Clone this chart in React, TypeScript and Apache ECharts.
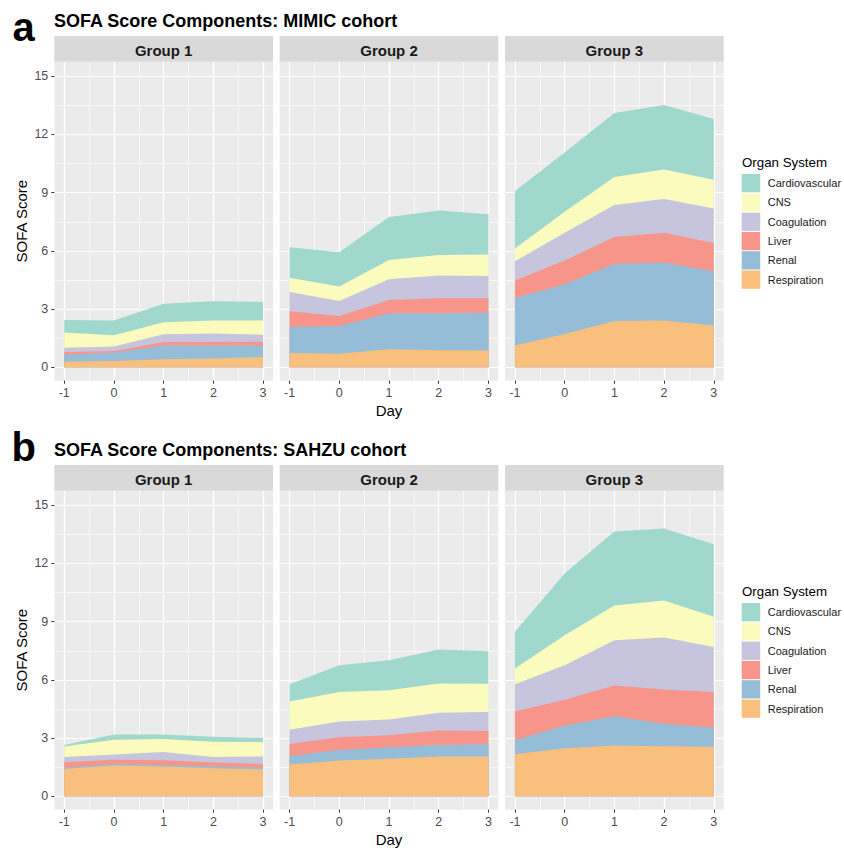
import React, { useEffect, useRef } from "react";
import * as echarts from "echarts";

// ---------- data ----------
const days = [-1, 0, 1, 2, 3];
const groups = ["Group 1", "Group 2", "Group 3"];
// stacking order, bottom -> top
const organs = ["Respiration", "Renal", "Liver", "Coagulation", "CNS", "Cardiovascular"];
const legendOrder = ["Cardiovascular", "CNS", "Coagulation", "Liver", "Renal", "Respiration"];
const yTickValues = [0, 3, 6, 9, 12, 15];
const yMinorValues = [1.5, 4.5, 7.5, 10.5, 13.5];
const xMinorValues = [-0.5, 0.5, 1.5, 2.5];
const cohortTitles = ["SOFA Score Components: MIMIC cohort", "SOFA Score Components: SAHZU cohort"];
const panelLetters = ["a", "b"];

// MIMIC cohort: component values per group (rows) and day (columns)
const mimicRespiration = [
  [0.29, 0.33, 0.41, 0.46, 0.53],
  [0.74, 0.70, 0.93, 0.88, 0.86],
  [1.12, 1.72, 2.39, 2.41, 2.16],
];
const mimicRenal = [
  [0.36, 0.43, 0.71, 0.67, 0.60],
  [1.34, 1.43, 1.85, 1.90, 1.96],
  [2.45, 2.56, 2.94, 2.99, 2.79],
];
const mimicLiver = [
  [0.12, 0.08, 0.17, 0.18, 0.19],
  [0.81, 0.52, 0.69, 0.78, 0.74],
  [0.90, 1.22, 1.39, 1.53, 1.46],
];
const mimicCoagulation = [
  [0.24, 0.23, 0.41, 0.43, 0.36],
  [0.99, 0.77, 1.07, 1.17, 1.14],
  [0.99, 1.44, 1.65, 1.75, 1.77],
];
const mimicCNS = [
  [0.78, 0.58, 0.62, 0.67, 0.73],
  [0.74, 0.74, 0.99, 1.06, 1.11],
  [0.66, 1.08, 1.44, 1.51, 1.48],
];
const mimicCardiovascular = [
  [0.65, 0.76, 0.96, 0.99, 0.96],
  [1.57, 1.77, 2.22, 2.29, 2.08],
  [2.97, 3.05, 3.30, 3.33, 3.14],
];

// SAHZU cohort
const sahzuRespiration = [
  [1.41, 1.59, 1.53, 1.45, 1.38],
  [1.64, 1.84, 1.93, 2.05, 2.05],
  [2.17, 2.48, 2.62, 2.58, 2.56],
];
const sahzuRenal = [
  [0.06, 0.08, 0.09, 0.08, 0.10],
  [0.44, 0.55, 0.60, 0.60, 0.64],
  [0.72, 1.17, 1.51, 1.16, 0.97],
];
const sahzuLiver = [
  [0.29, 0.21, 0.24, 0.21, 0.19],
  [0.61, 0.66, 0.62, 0.74, 0.67],
  [1.48, 1.32, 1.58, 1.77, 1.84],
];
const sahzuCoagulation = [
  [0.26, 0.28, 0.42, 0.29, 0.38],
  [0.74, 0.81, 0.81, 0.91, 0.98],
  [1.40, 1.79, 2.33, 2.67, 2.32],
];
const sahzuCNS = [
  [0.55, 0.75, 0.67, 0.78, 0.74],
  [1.46, 1.51, 1.51, 1.52, 1.46],
  [0.82, 1.54, 1.79, 1.91, 1.57],
];
const sahzuCardiovascular = [
  [0.07, 0.28, 0.24, 0.26, 0.21],
  [0.89, 1.39, 1.54, 1.74, 1.67],
  [1.89, 3.18, 3.82, 3.71, 3.73],
];

const cohorts: Record<string, number[][]>[] = [
  {
    Respiration: mimicRespiration,
    Renal: mimicRenal,
    Liver: mimicLiver,
    Coagulation: mimicCoagulation,
    CNS: mimicCNS,
    Cardiovascular: mimicCardiovascular,
  },
  {
    Respiration: sahzuRespiration,
    Renal: sahzuRenal,
    Liver: sahzuLiver,
    Coagulation: sahzuCoagulation,
    CNS: sahzuCNS,
    Cardiovascular: sahzuCardiovascular,
  },
];

// ---------- style ----------
const colors: Record<string, string> = {
  Cardiovascular: "#A0D8CE",
  CNS: "#FBFBBE",
  Coagulation: "#C7C4DD",
  Liver: "#F8958A",
  Renal: "#95BDD8",
  Respiration: "#F9BF7D",
};
const FONT = "'Liberation Sans', Arial, Helvetica, sans-serif";
const PANEL_LEFT = 54.3;
const PANEL_W = 218.7;
const PANEL_STEP = 225.35;
const PANEL_H = 319;
const ROW_OFFSET = 429;
const PLOT_TOP = 61.7;
const STRIP_TOP = 36;
const STRIP_H = 25.7;
const Y_MIN = -0.69;
const Y_MAX = 15.75;
const X_MIN = -1.2;
const X_MAX = 3.2;

function buildOption() {
  const grid: any[] = [];
  const series: any[] = [];
  const graphic: any[] = [];
  const legend: any[] = [];

  const majorX: any[] = [];
  const majorY: any[] = [];
  const minorX: any[] = [];
  const minorY: any[] = [];

  for (let r = 0; r < 2; r++) {
    const top = PLOT_TOP + r * ROW_OFFSET;
    for (let g = 0; g < 3; g++) {
      const idx = r * 3 + g;
      const left = PANEL_LEFT + g * PANEL_STEP;
      grid.push({
        left,
        top,
        width: PANEL_W,
        height: PANEL_H,
        show: true,
        backgroundColor: "#EBEBEB",
        borderWidth: 0,
        containLabel: false,
        outerBoundsMode: "none",
      });
      majorX.push({
        type: "value",
        gridIndex: idx,
        min: X_MIN,
        max: X_MAX,
        position: "bottom",
        name: g === 1 ? "Day" : "",
        nameLocation: "middle",
        nameGap: 22,
        nameTextStyle: { fontFamily: FONT, fontSize: 15, color: "#000" },
        axisLine: { show: false, onZero: false },
        axisTick: { show: true, length: 3, lineStyle: { color: "#333333", width: 1 }, customValues: days },
        axisLabel: { show: true, customValues: days, margin: 6, fontFamily: FONT, fontSize: 12.5, color: "#4D4D4D" },
        splitLine: { show: true, lineStyle: { color: "#FFFFFF", width: 1.2 } },
        z: 1,
      });
      minorX.push({
        type: "value",
        gridIndex: idx,
        min: X_MIN,
        max: X_MAX,
        position: "top",
        axisLine: { show: false, onZero: false },
        axisTick: { show: false, customValues: xMinorValues },
        axisLabel: { show: false, customValues: xMinorValues },
        splitLine: { show: true, lineStyle: { color: "#FFFFFF", width: 0.6 } },
        z: 0,
      });
      majorY.push({
        type: "value",
        gridIndex: idx,
        min: Y_MIN,
        max: Y_MAX,
        position: "left",
        name: g === 0 ? "SOFA Score" : "",
        nameLocation: "middle",
        nameGap: 25,
        nameTextStyle: { fontFamily: FONT, fontSize: 15, color: "#000" },
        axisLine: { show: false, onZero: false },
        axisTick: { show: g === 0, length: 3, lineStyle: { color: "#333333", width: 1 }, customValues: yTickValues },
        axisLabel: { show: g === 0, customValues: yTickValues, margin: 6, fontFamily: FONT, fontSize: 12.5, color: "#4D4D4D" },
        splitLine: { show: true, lineStyle: { color: "#FFFFFF", width: 1.2 } },
        z: 1,
      });
      minorY.push({
        type: "value",
        gridIndex: idx,
        min: Y_MIN,
        max: Y_MAX,
        position: "right",
        axisLine: { show: false, onZero: false },
        axisTick: { show: false, customValues: yMinorValues },
        axisLabel: { show: false, customValues: yMinorValues },
        splitLine: { show: true, lineStyle: { color: "#FFFFFF", width: 0.6 } },
        z: 0,
      });

      // cumulative (stacked) tops, computed from the component arrays
      const cum: number[][] = [];
      organs.forEach((o, k) => {
        const vals = cohorts[r][o][g];
        cum.push(vals.map((v, i) => (k > 0 ? cum[k - 1][i] : 0) + v));
      });
      // draw the tallest band first so lower bands lie over it
      for (let k = organs.length - 1; k >= 0; k--) {
        const o = organs[k];
        series.push({
          type: "line",
          name: o,
          xAxisIndex: idx,
          yAxisIndex: idx,
          data: days.map((d, i) => [d, +cum[k][i].toFixed(3)]),
          symbol: "none",
          showSymbol: false,
          silent: true,
          lineStyle: { width: 0, opacity: 0 },
          itemStyle: { color: colors[o] },
          areaStyle: { color: colors[o], opacity: 1, origin: "auto" },
          z: 2 + (organs.length - k),
        });
      }

      // strip
      graphic.push({
        type: "rect",
        shape: { x: left, y: STRIP_TOP + r * ROW_OFFSET, width: PANEL_W, height: STRIP_H },
        style: { fill: "#D9D9D9" },
        silent: true,
      });
      graphic.push({
        type: "text",
        x: left + PANEL_W / 2,
        y: STRIP_TOP + r * ROW_OFFSET + 14,
        style: {
          text: groups[g],
          fontFamily: FONT,
          fontSize: 15,
          fontWeight: "bold",
          fill: "#1A1A1A",
          align: "center",
          verticalAlign: "middle",
        },
        silent: true,
      });
    }

    // titles
    graphic.push({
      type: "text",
      x: 54,
      y: 21 + r * ROW_OFFSET,
      style: {
        text: cohortTitles[r],
        fontFamily: FONT,
        fontSize: 18,
        fontWeight: "bold",
        fill: "#000",
        align: "left",
        verticalAlign: "middle",
      },
      silent: true,
    });
    graphic.push({
      type: "text",
      x: r === 0 ? 12.5 : 11.5,
      y: r === 0 ? 27 : 447,
      style: {
        text: panelLetters[r],
        fontFamily: FONT,
        fontSize: 40,
        fontWeight: "bold",
        fill: "#000",
        align: "left",
        verticalAlign: "middle",
      },
      silent: true,
    });
    // legend title
    graphic.push({
      type: "text",
      x: 742,
      y: 162.7 + r * ROW_OFFSET,
      style: {
        text: "Organ System",
        fontFamily: FONT,
        fontSize: 13.3,
        fill: "#000",
        align: "left",
        verticalAlign: "middle",
      },
      silent: true,
    });
    legend.push({
      orient: "vertical",
      left: 741.7,
      top: 174 + r * ROW_OFFSET,
      padding: 0,
      itemWidth: 18.5,
      itemHeight: 18.3,
      itemGap: 1,
      icon: "rect",
      selectedMode: false,
      data: legendOrder.map((n) => ({ name: n, itemStyle: { color: colors[n], borderWidth: 0 } })),
      itemStyle: { borderWidth: 0 },
      textStyle: { fontFamily: FONT, fontSize: 11, color: "#1A1A1A", padding: [0, 0, 0, 2.5], overflow: "none" },
    });
  }

  return {
    animation: false,
    backgroundColor: "#FFFFFF",
    textStyle: { fontFamily: FONT },
    grid,
    xAxis: [...majorX, ...minorX],
    yAxis: [...majorY, ...minorY],
    series,
    legend,
    graphic,
    tooltip: { show: false },
  };
}

export default function App() {
  const ref = useRef<HTMLDivElement>(null);
  useEffect(() => {
    document.body.style.margin = "0";
    if (!ref.current) return;
    const chart = echarts.init(ref.current, null, { renderer: "svg" });
    chart.setOption(buildOption() as any);
    return () => {
      chart.dispose();
    };
  }, []);
  return <div ref={ref} style={{ width: 844, height: 848, background: "#fff" }} />;
}
